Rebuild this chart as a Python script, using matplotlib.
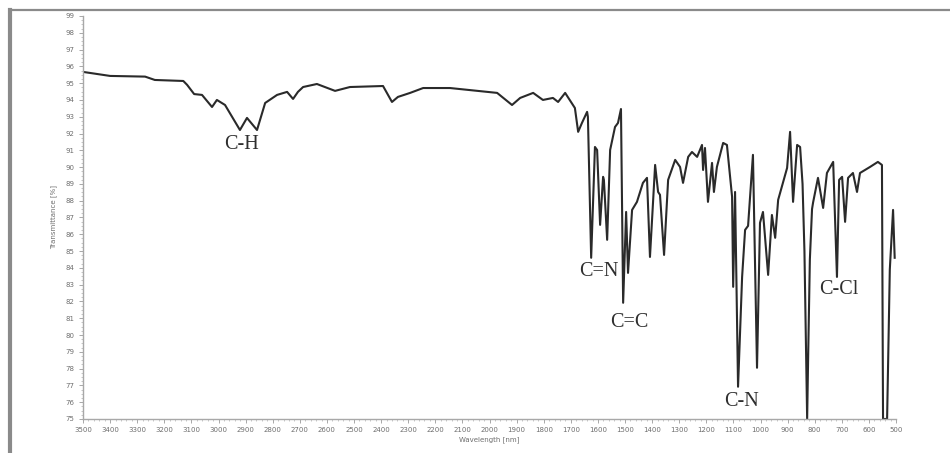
import matplotlib
matplotlib.use("Agg")
import matplotlib.pyplot as plt
from matplotlib.lines import Line2D
from matplotlib.ticker import MultipleLocator

# FT-IR spectrum: wavenumber (cm-1) vs transmittance (%)
wavenumber = [
    3500, 3400, 3271, 3235, 3130, 3116, 3090, 3061, 3024, 3006, 2976, 2921,
    2895, 2858, 2828, 2784, 2747, 2725, 2707, 2688, 2637, 2570, 2515, 2393,
    2360, 2338, 2293, 2245, 2146, 1972, 1917, 1887, 1839, 1803, 1766, 1747,
    1721, 1685, 1673, 1659, 1640, 1637, 1625, 1611, 1603, 1592, 1581, 1578,
    1566, 1555, 1537, 1526, 1515, 1507, 1496, 1489, 1474, 1456, 1434, 1419,
    1408, 1389, 1378, 1371, 1356, 1341, 1315, 1297, 1286, 1267, 1253, 1234,
    1216, 1212, 1205, 1194, 1179, 1172, 1161, 1138, 1124, 1105, 1101, 1094,
    1083, 1068, 1057, 1046, 1028, 1013, 1002, 991, 972, 958, 946, 935,
    902, 891, 880, 865, 854, 845, 838, 832, 828, 824, 818, 810,
    806, 788, 769, 755, 732, 718, 710, 699, 688, 677, 659, 644,
    633, 596, 567, 552, 548, 540, 533, 523, 515, 511, 508, 505,
]
transmittance = [
    95.67, 95.43, 95.39, 95.19, 95.13, 94.90, 94.35, 94.30, 93.58, 94.00, 93.70, 92.21,
    92.93, 92.21, 93.82, 94.30, 94.48, 94.06, 94.48, 94.77, 94.95, 94.54, 94.77, 94.83,
    93.88, 94.18, 94.42, 94.71, 94.71, 94.42, 93.70, 94.12, 94.42, 94.00, 94.12, 93.88,
    94.42, 93.52, 92.10, 92.63, 93.29, 92.99, 84.60, 91.20, 91.02, 86.56, 89.42, 89.24,
    85.67, 91.02, 92.39, 92.63, 93.46, 81.92, 87.33, 83.70, 87.45, 87.93, 89.06, 89.36,
    84.65, 90.13, 88.52, 88.35, 84.77, 89.24, 90.43, 90.01, 89.06, 90.61, 90.90, 90.61,
    91.32, 89.83, 91.14, 87.93, 90.25, 88.52, 90.01, 91.44, 91.32, 88.23, 82.87, 88.52,
    76.92, 83.46, 86.26, 86.50, 90.73, 78.05, 86.68, 87.33, 83.58, 87.15, 85.79, 88.05,
    89.95, 92.10, 87.93, 91.32, 91.20, 89.00, 85.00, 79.00, 75.00, 79.00, 84.50, 87.50,
    87.90, 89.36, 87.57, 89.65, 90.31, 83.46, 89.24, 89.42, 86.74, 89.36, 89.65, 88.52,
    89.65, 90.01, 90.31, 90.13, 75.00, 75.00, 75.00, 83.90, 86.30, 87.45, 86.00, 84.60,
]

# Band assignments and where their labels sit
band_labels = ["C-H", "C=N", "C=C", "C-N", "C-Cl"]
band_label_x = [2917, 1596, 1485, 1072, 710]
band_label_y = [91.32, 83.76, 80.73, 76.02, 82.69]

x_ticks = list(range(3500, 499, -100))
y_ticks = list(range(75, 100))

fig = plt.figure(figsize=(9.5, 4.53), dpi=100)
ax = fig.add_axes([0.0874, 0.0751, 0.8558, 0.8896])

ax.plot(wavenumber, transmittance, color="#2a2a2a", linewidth=1.5,
        solid_joinstyle="round")

ax.set_xlim(3500, 500)
ax.set_ylim(75, 99)
ax.set_xticks(x_ticks)
ax.set_xticklabels([str(t) for t in x_ticks])
ax.set_yticks(y_ticks)
ax.set_yticklabels([str(t) for t in y_ticks])
ax.xaxis.set_minor_locator(MultipleLocator(20))
ax.yaxis.set_minor_locator(MultipleLocator(0.25))

ax.tick_params(axis="both", which="major", labelsize=5, colors="#9a9a9a",
               length=3, width=0.6, labelcolor="#6e6e6e", pad=3)
ax.tick_params(axis="both", which="minor", colors="#b0b0b0", length=1.5, width=0.5)

for side in ("top", "right"):
    ax.spines[side].set_visible(False)
for side in ("left", "bottom"):
    ax.spines[side].set_color("#a8a8a8")
    ax.spines[side].set_linewidth(1.0)

ax.set_xlabel("Wavelength [nm]", fontsize=5, color="#6e6e6e", labelpad=2)
ax.set_ylabel("Transmittance [%]", fontsize=5, color="#6e6e6e", labelpad=6)

for text, bx, by in zip(band_labels, band_label_x, band_label_y):
    ax.text(bx, by, text, fontsize=14.5, family="Liberation Serif",
            color="#2e2e2e", ha="center", va="center")

# Outer frame lines along the top and left edges
fig.add_artist(Line2D([0.011, 1.0], [0.979, 0.979], transform=fig.transFigure,
                      color="#8a8a8a", linewidth=1.6))
fig.add_artist(Line2D([0.011, 0.011], [0.0, 0.979], transform=fig.transFigure,
                      color="#8a8a8a", linewidth=3.0))

fig.savefig("out.png", dpi=100, facecolor="white")
